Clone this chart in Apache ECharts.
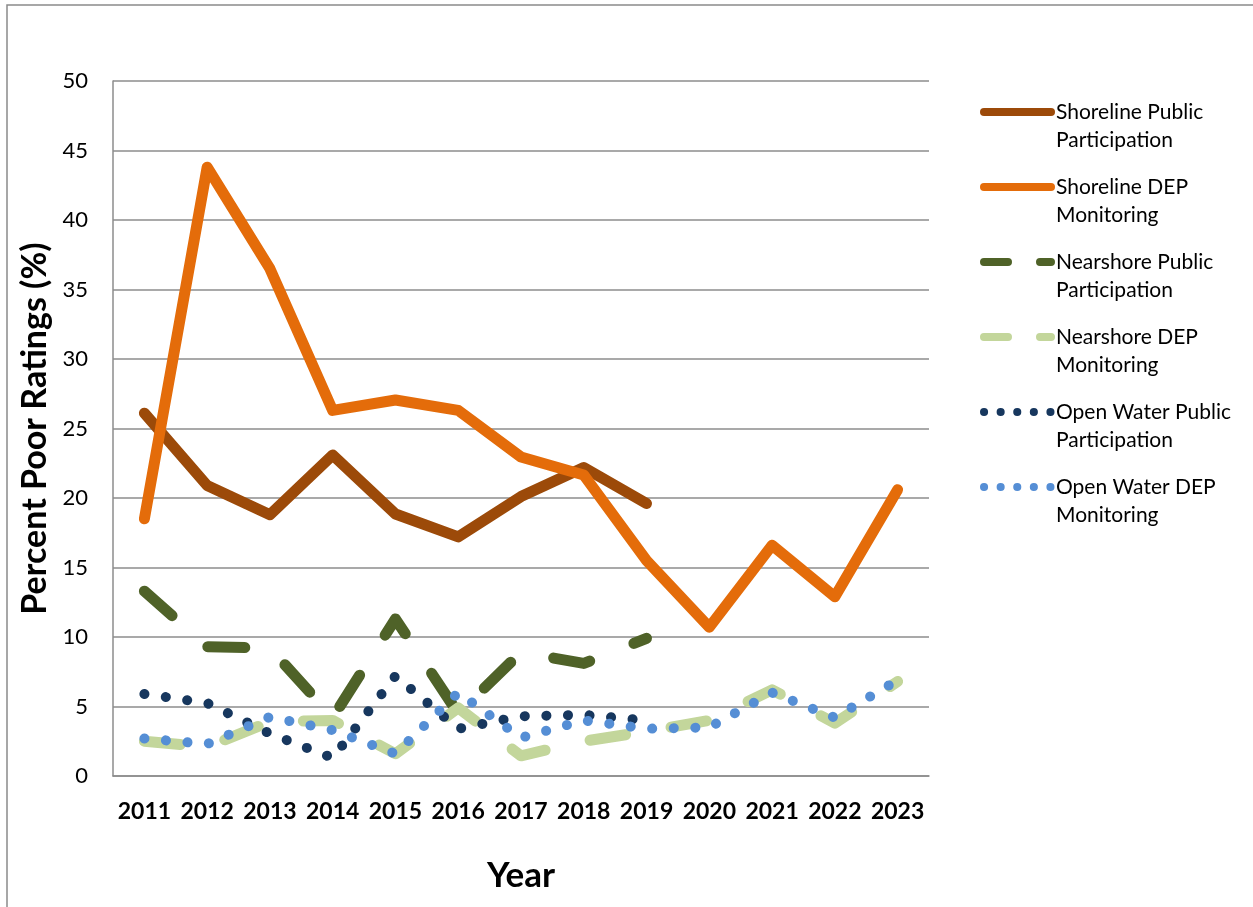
<!DOCTYPE html>
<html>
<head>
<meta charset="utf-8">
<script src="https://cdn.jsdelivr.net/npm/echarts@6/dist/echarts.min.js"></script>
<style>
  html, body { margin: 0; padding: 0; background: #fff; }
  #chart { width: 1253px; height: 907px; }
</style>
</head>
<body>
<div id="chart"></div>
<script>
const years = ['2011','2012','2013','2014','2015','2016','2017','2018','2019','2020','2021','2022','2023'];
const yTicks = { min: 0, max: 50, interval: 5 };

const shorelinePublic = [26.1, 20.9, 18.8, 23.1, 18.85, 17.2, 20.1, 22.2, 19.6, null, null, null, null];
const shorelineDEP    = [18.5, 43.8, 36.5, 26.3, 27.05, 26.3, 22.95, 21.65, 15.5, 10.7, 16.6, 12.9, 20.6];
const nearshorePublic = [13.3, 9.3, 9.2, 4.2, 11.3, 4.5, 8.9, 8.1, 9.9, null, null, null, null];
const nearshoreDEP    = [2.5, 2.1, 3.9, 4.0, 1.6, 4.9, 1.45, 2.5, 3.2, 4.0, 6.2, 3.8, 6.8];
const openWaterPublic = [5.9, 5.25, 3.05, 1.3, 7.2, 3.4, 4.3, 4.4, 4.0, null, null, null, null];
const openWaterDEP    = [2.7, 2.3, 4.25, 3.3, 1.6, 6.0, 2.75, 4.0, 3.4, 3.5, 6.0, 4.2, 6.9];

const names = [
  'Shoreline Public\nParticipation',
  'Shoreline DEP\nMonitoring',
  'Nearshore Public\nParticipation',
  'Nearshore DEP\nMonitoring',
  'Open Water Public\nParticipation',
  'Open Water DEP\nMonitoring'
];
const colors = ['#9C4A09', '#E46C0A', '#4F6228', '#C3D69B', '#17375E', '#558ED5'];
const values = [shorelinePublic, shorelineDEP, nearshorePublic, nearshoreDEP, openWaterPublic, openWaterDEP];
const kinds = ['solid', 'solid', 'dashA', 'dashB', 'dot', 'dot'];

const FONT = 'Lato';
const chart = echarts.init(document.getElementById('chart'), null, { renderer: 'canvas' });

function seriesLineType(k) {
  if (k === 'dashA') return [37, 47.5];
  if (k === 'dashB') return [36, 46];
  if (k === 'dot') return [0.1, 21.5];
  return 'solid';
}
function legendLineType(k) {
  if (k === 'dashA' || k === 'dashB') return [24, 32];
  if (k === 'dot') return [0.1, 16.5];
  return 'solid';
}

const series = names.map((n, i) => ({
  name: n,
  type: 'line',
  data: values[i],
  symbol: 'none',
  smooth: false,
  connectNulls: false,
  animation: false,
  lineStyle: {
    color: colors[i],
    width: kinds[i] === 'dot' ? 10 : 11,
    type: seriesLineType(kinds[i]),
    cap: 'round',
    join: 'round'
  },
  itemStyle: { color: colors[i] },
  emphasis: { disabled: true }
}));

chart.setOption({
  animation: false,
  backgroundColor: '#ffffff',
  graphic: [{
    type: 'rect',
    shape: { x: 7, y: 5, width: 1400, height: 1100 },
    style: { fill: 'none', stroke: '#8a8a8a', lineWidth: 1.5 },
    silent: true,
    z: -10
  }],
  grid: { left: 113, top: 81, right: 324, bottom: 131, containLabel: false },
  legend: {
    orient: 'vertical',
    left: 980,
    top: 70,
    padding: 0,
    itemWidth: 67,
    itemHeight: 14,
    itemGap: -9,
    selectedMode: false,
    formatter: function (n) { return ' \n' + n; },
    data: names.map((n, i) => ({
      name: n,
      lineStyle: {
        color: colors[i],
        width: 8,
        type: legendLineType(kinds[i]),
        cap: 'round'
      },
      itemStyle: { opacity: 0 }
    })),
    textStyle: {
      fontFamily: FONT,
      fontSize: 21,
      color: '#000',
      lineHeight: 28
    }
  },
  xAxis: {
    type: 'category',
    data: years,
    boundaryGap: true,
    name: 'Year',
    nameLocation: 'middle',
    nameGap: 82,
    nameTextStyle: { fontFamily: FONT, fontSize: 35, fontWeight: 'bold', color: '#000' },
    axisLine: { show: true, lineStyle: { color: '#8c8c8c', width: 1.5 } },
    axisTick: { show: false },
    axisLabel: { fontFamily: FONT, fontSize: 23, fontWeight: 'bold', color: '#000', margin: 24, interval: 0 },
    splitLine: { show: false }
  },
  yAxis: {
    type: 'value',
    min: yTicks.min,
    max: yTicks.max,
    interval: yTicks.interval,
    name: 'Percent Poor Ratings (%)',
    nameLocation: 'middle',
    nameGap: 59,
    nameTextStyle: { fontFamily: FONT, fontSize: 34, fontWeight: 'bold', color: '#000' },
    axisLine: { show: true, lineStyle: { color: '#8c8c8c', width: 1.5 } },
    axisTick: { show: false },
    axisLabel: { fontFamily: FONT, fontSize: 22, color: '#000', margin: 25 },
    splitLine: { show: true, lineStyle: { color: '#8c8c8c', width: 1.5 } }
  },
  series: series
});
</script>
</body>
</html>
